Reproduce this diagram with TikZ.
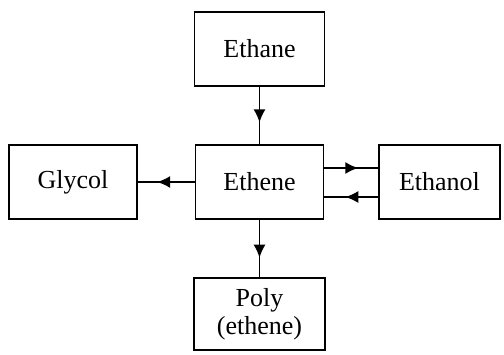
\documentclass[tikz,border=0pt]{standalone}
\usepackage{fontspec}
\setmainfont{Liberation Serif}
\usetikzlibrary{arrows.meta,decorations.markings}

\tikzset{
	chem/.style={draw, line width=1.5pt, minimum height=74pt, align=center,
		font=\fontsize{26}{28}\selectfont, inner sep=2pt},
	link/.style={line width=1.5pt},
	midarrow/.style={postaction={decorate}, decoration={markings,
		mark=at position #1 with {\arrow{Latex[length=13pt,width=12pt]}}}}
}

\begin{document}
\begin{tikzpicture}[x=1pt,y=-1pt]
\useasboundingbox (0,0) rectangle (504,354);

\node[chem, minimum width=130pt] (ane) at (259.5,49) {Ethane};
\node[chem, minimum width=128pt] (ene) at (259.5,182) {Ethene};
\node[chem, minimum width=128pt] (gly) at (73,182) {Glycol};
\node[chem, minimum width=121pt] (anol) at (439.5,182) {Ethanol};
\node[chem, minimum width=131pt, minimum height=72pt] (poly) at (259.5,314) {Poly\\(ethene)};

\draw[link, midarrow=0.62] (ane) -- (ene);
\draw[link, midarrow=0.66] (ene) -- (gly);
\draw[link, midarrow=0.66] (ene) -- (poly);
\draw[link, midarrow=0.63] ([yshift=14pt]ene.east) -- ([yshift=14pt]anol.west);
\draw[link, midarrow=0.61] ([yshift=-15pt]anol.west) -- ([yshift=-15pt]ene.east);
\end{tikzpicture}
\end{document}
